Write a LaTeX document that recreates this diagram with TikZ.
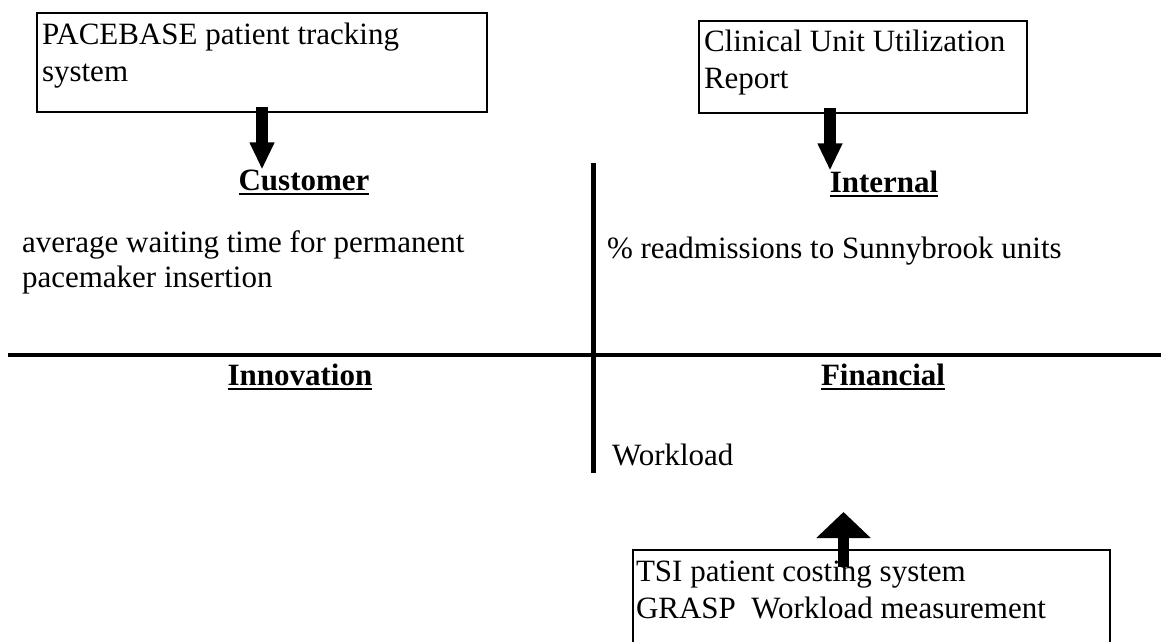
\documentclass[tikz,border=0pt]{standalone}
\usepackage{fontspec}
\setmainfont{Liberation Serif}
\usetikzlibrary{arrows.meta}
% bold heading with a heavy underline
\newcommand\ulhead[1]{\setbox0\hbox{#1}\rlap{\rule[-4.5pt]{\wd0}{2pt}}\box0}
\begin{document}
\begin{tikzpicture}[x=1pt,y=-1pt,
  every node/.style={inner sep=0pt,outer sep=0pt,font=\fontsize{31}{37}\selectfont},
  srcbox/.style={draw,line width=2pt,anchor=north west},
  heading/.style={anchor=base,font=\fontsize{31}{37}\selectfont\bfseries},
  body/.style={anchor=base west,align=left},
  fatdown/.style={line width=12pt,-{Triangle[width=23pt,length=27pt]}},
  fatup/.style={line width=11pt,-{Triangle[width=53pt,length=26pt]}},
  divider/.style={line width=5pt}]
\useasboundingbox (0,0) rectangle (1161,641);
\clip (0,0) rectangle (1161,641);

% quadrant dividers
\coordinate (vtop) at (593,163);
\coordinate (vbot) at (593,473);
\coordinate (hleft) at (8,355);
\coordinate (hright) at (1161,355);
\draw[divider] (vtop) -- (vbot);
\draw[divider,line width=4.5pt] (hleft) -- (hright);

% data source boxes (multi-line texts are placed by their last baseline)
\node[srcbox,minimum width=450pt,minimum height=99pt] (box1) at (37,13) {};
\node[body] (pacet) at (42,81) {PACEBASE patient tracking\\system};
\node[srcbox,minimum width=328pt,minimum height=92pt] (box2) at (699,21) {};
\node[body] (cuurt) at (704,88) {Clinical Unit Utilization\\Report};
\node[srcbox,minimum width=477pt,minimum height=140pt] (box3) at (633,550) {};
\node[body] (tsit) at (636,618) {TSI patient costing system\\GRASP\ \ Workload measurement};

% quadrant headings
\node[heading] (cust) at (304,190) {\ulhead{Customer}};
\node[heading] (intl) at (884,192) {\ulhead{Internal}};
\node[heading] (innov) at (300,385) {\ulhead{Innovation}};
\node[heading] (fin) at (883,385) {\ulhead{Financial}};

% measures
\node[body,font=\fontsize{31}{35}\selectfont] (custm) at (22,287) {average waiting time for permanent\\pacemaker insertion};
\node[body] (intm) at (607,258) {\% readmissions to Sunnybrook units};
\node[body] (finm) at (612,465) {Workload};

% feeds from the sources
\draw[fatdown] ([yshift=5pt]box1.south) -- (box1.south |- cust.north);
\draw[fatdown] ([xshift=-33pt,yshift=5pt]box2.south) coordinate (a2) -- (a2 |- intl.north);
\coordinate (finin) at (843.5,512);
\draw[fatup] (box3.north -| finin) ++(0,17) -- (finin);
\end{tikzpicture}
\end{document}
